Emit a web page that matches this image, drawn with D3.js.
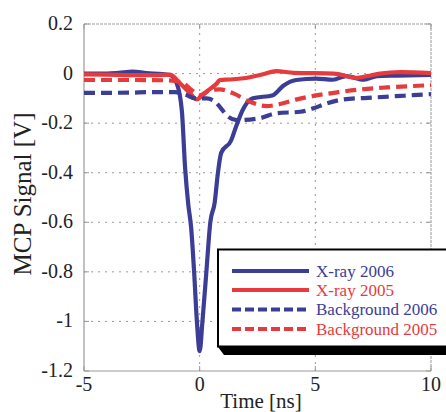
<!DOCTYPE html>
<html>
<head>
<meta charset="utf-8">
<script src="https://cdn.jsdelivr.net/npm/d3@7"></script>
<style>
  html, body { margin: 0; padding: 0; background: #fff; }
  svg { display: block; }
</style>
</head>
<body>
<svg id="chart" width="446" height="412"></svg>
<script>
// ---- Data ----
const seriesNames = ["X-ray 2006", "X-ray 2005", "Background 2006", "Background 2005"];

const xray2006T = [-5, -4, -3.5, -2.9, -2.3, -1.6, -1.28, -0.99, -0.77, -0.63, -0.49, -0.37, -0.24, -0.12, 0, 0.12, 0.29, 0.46, 0.65, 0.79, 0.93, 1.36, 1.57, 1.86, 2.3, 3.17, 3.6, 4.17, 5.04, 5.76, 6.33, 7.1, 7.67, 8.5, 10];
const xray2006V = [0, 0, 0.003, 0.008, 0.002, -0.002, -0.006, -0.04, -0.15, -0.38, -0.53, -0.62, -0.8, -1.0, -1.12, -1.0, -0.8, -0.6, -0.52, -0.4, -0.32, -0.27, -0.215, -0.147, -0.1, -0.087, -0.05, -0.026, -0.02, -0.025, -0.01, -0.025, -0.01, -0.008, -0.005];

const xray2005T = [-5, -4, -3, -2, -1.28, -0.84, -0.41, -0.14, 0.1, 0.38, 0.74, 0.87, 1.32, 2.17, 2.6, 2.78, 3.3, 4.06, 5.8, 6.8, 7.25, 7.8, 8.67, 10];
const xray2005V = [-0.003, -0.004, -0.006, -0.006, -0.004, -0.04, -0.08, -0.104, -0.09, -0.067, -0.04, -0.026, -0.024, -0.015, -0.006, -0.002, 0.01, 0.003, 0, -0.017, -0.01, 0, 0.006, 0.002];

const bg2006T = [-5, -3, -2.2, -1.07, -0.6, -0.2, 0.29, 0.58, 0.87, 1.16, 1.6, 2.6, 3.3, 4.35, 4.92, 5.5, 6.24, 7.25, 8.7, 10];
const bg2006V = [-0.078, -0.077, -0.075, -0.075, -0.085, -0.1, -0.1, -0.108, -0.134, -0.168, -0.188, -0.18, -0.16, -0.154, -0.14, -0.12, -0.104, -0.098, -0.09, -0.083];

const bg2005T = [-5, -3, -1.5, -0.8, -0.3, 0, 0.43, 0.87, 1.46, 2.17, 2.89, 3.48, 4.2, 4.92, 5.8, 6.94, 8.1, 10];
const bg2005V = [-0.026, -0.026, -0.027, -0.035, -0.07, -0.088, -0.067, -0.064, -0.08, -0.114, -0.131, -0.123, -0.104, -0.09, -0.078, -0.064, -0.056, -0.047];

const xTicks = [-5, 0, 5, 10];
const yTicks = [0.2, 0, -0.2, -0.4, -0.6, -0.8, -1, -1.2];
const xGrid = [0, 5];
const yGrid = [0, -0.2, -0.4, -0.6, -0.8, -1];

// ---- Styles ----
const FONT = "'Liberation Serif', 'Times New Roman', serif";
const BLUE = "#3b3d96";
const RED = "#e63a3c";
const GRID = "#999999";

const svg = d3.select("#chart").attr("font-family", FONT);
const x = d3.scaleLinear().domain([-5, 10]).range([84, 431]);
const y = d3.scaleLinear().domain([-1.2, 0.2]).range([371, 24]);

// grid
svg.append("g").selectAll("line").data(yGrid).join("line")
  .attr("x1", x(-5)).attr("x2", x(10))
  .attr("y1", d => y(d)).attr("y2", d => y(d))
  .attr("stroke", GRID).attr("stroke-width", 1).attr("stroke-dasharray", "2,5");
svg.append("g").selectAll("line").data(xGrid).join("line")
  .attr("y1", y(-1.2)).attr("y2", y(0.2))
  .attr("x1", d => x(d)).attr("x2", d => x(d))
  .attr("stroke", GRID).attr("stroke-width", 1).attr("stroke-dasharray", "2,5");

// frame: left/bottom solid, top/right dashed
svg.append("line").attr("x1", x(-5)).attr("x2", x(-5)).attr("y1", y(-1.2)).attr("y2", y(0.2))
  .attr("stroke", GRID).attr("stroke-width", 1.2);
svg.append("line").attr("x1", x(-5)).attr("x2", x(10)).attr("y1", y(-1.2)).attr("y2", y(-1.2))
  .attr("stroke", GRID).attr("stroke-width", 1.2);
svg.append("line").attr("x1", x(-5)).attr("x2", x(10)).attr("y1", y(0.2)).attr("y2", y(0.2))
  .attr("stroke", GRID).attr("stroke-width", 1).attr("stroke-dasharray", "3,1");
svg.append("line").attr("x1", x(10)).attr("x2", x(10)).attr("y1", y(-1.2)).attr("y2", y(0.2))
  .attr("stroke", GRID).attr("stroke-width", 1).attr("stroke-dasharray", "3,1");

// inward ticks
const TL = 5;
yTicks.forEach(v => {
  svg.append("line").attr("x1", x(-5)).attr("x2", x(-5) + TL).attr("y1", y(v)).attr("y2", y(v)).attr("stroke", GRID);
  svg.append("line").attr("x1", x(10)).attr("x2", x(10) - TL).attr("y1", y(v)).attr("y2", y(v)).attr("stroke", GRID);
});
xTicks.forEach(v => {
  svg.append("line").attr("x1", x(v)).attr("x2", x(v)).attr("y1", y(-1.2)).attr("y2", y(-1.2) - TL).attr("stroke", GRID);
  svg.append("line").attr("x1", x(v)).attr("x2", x(v)).attr("y1", y(0.2)).attr("y2", y(0.2) + TL).attr("stroke", GRID);
});

// tick labels
svg.append("g").selectAll("text").data(yTicks).join("text")
  .attr("x", 73).attr("y", d => y(d) + 6)
  .attr("text-anchor", "end").attr("font-size", 20).attr("fill", "#222")
  .text(d => String(d));
svg.append("g").selectAll("text").data(xTicks).join("text")
  .attr("x", d => x(d)).attr("y", 391)
  .attr("text-anchor", "middle").attr("font-size", 20).attr("fill", "#222")
  .text(d => String(d));

// axis titles
svg.append("text").attr("x", 261).attr("y", 408).attr("text-anchor", "middle")
  .attr("font-size", 21).attr("fill", "#222").text("Time [ns]");
svg.append("text").attr("transform", "translate(31,194) rotate(-90)").attr("text-anchor", "middle")
  .attr("font-size", 25).attr("fill", "#222").text("MCP Signal [V]");

// lines
const line = d3.line().x(d => x(d[0])).y(d => y(d[1])).curve(d3.curveMonotoneX);
const series = [
  { t: xray2006T, v: xray2006V, color: BLUE, dash: null },
  { t: xray2005T, v: xray2005V, color: RED, dash: null },
  { t: bg2006T, v: bg2006V, color: BLUE, dash: "11,6" },
  { t: bg2005T, v: bg2005V, color: RED, dash: "11,6" }
];
series.forEach(s => {
  const pts = s.t.map((t, i) => [t, s.v[i]]);
  svg.append("path").datum(pts).attr("d", line)
    .attr("fill", "none").attr("stroke", s.color).attr("stroke-width", 4.2)
    .attr("stroke-linejoin", "round")
    .attr("stroke-dasharray", s.dash);
});

// legend
const lg = svg.append("g");
lg.append("polygon")
  .attr("points", "218,347 446,347 446,355 224,355")
  .attr("fill", "#000");
lg.append("rect").attr("x", 218).attr("y", 249.5).attr("width", 240).attr("height", 97)
  .attr("fill", "#fff").attr("stroke", "#000").attr("stroke-width", 2);
const rowsY = [271, 290, 309.5, 329];
series.forEach((s, i) => {
  lg.append("line").attr("x1", 232).attr("x2", 309).attr("y1", rowsY[i]).attr("y2", rowsY[i])
    .attr("stroke", s.color).attr("stroke-width", 4.2).attr("stroke-dasharray", s.dash ? "9,4" : null);
  lg.append("text").attr("x", 316).attr("y", rowsY[i] + 5.5).attr("font-size", 17)
    .attr("fill", s.color).text(seriesNames[i]);
});
</script>
</body>
</html>
